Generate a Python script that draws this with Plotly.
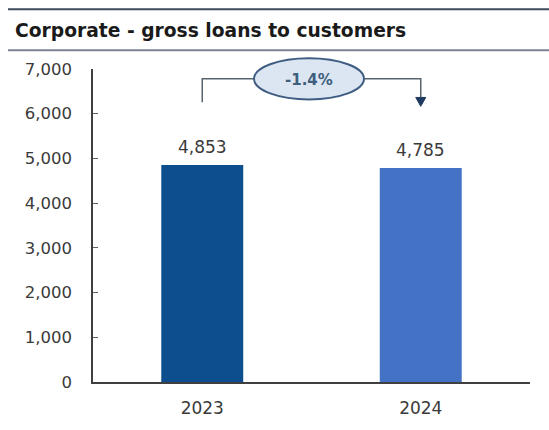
import plotly.graph_objects as go

# Data
years = ["2023", "2024"]
loans = [4853, 4785]
bar_colors = ["#0c4e8e", "#4472c4"]
change_label = "-1.4%"
y_ticks = [0, 1000, 2000, 3000, 4000, 5000, 6000, 7000]

W, H = 549, 430
ML, MR, MT, MB = 93, 19, 69, 42
PW, PH = W - ML - MR, H - MT - MB

FONT = "DejaVu Sans"
TXT = "#3a3a3a"


def px_x(x):
    """pixel x -> paper x"""
    return (x - ML) / PW


def px_y(y):
    """pixel y -> paper y"""
    return (H - MB - y) / PH


def cat_x(i):
    """paper x of category centre"""
    return (i + 0.5) / len(years)


fig = go.Figure(
    go.Bar(
        x=years,
        y=loans,
        marker=dict(color=bar_colors, line=dict(width=0)),
        width=0.375,
        hoverinfo="skip",
    )
)

# value labels above bars (category axis -> position by index)
for i, v in enumerate(loans):
    fig.add_annotation(
        x=i, y=v, xref="x", yref="y",
        text=f"{v:,}", showarrow=False,
        yanchor="bottom", yshift=6,
        font=dict(family=FONT, size=17, color=TXT),
    )

shapes = []
# header rules
shapes.append(dict(type="line", xref="paper", yref="paper",
                   x0=px_x(8), x1=px_x(W), y0=px_y(8), y1=px_y(8),
                   line=dict(color="#3d4b5e", width=2)))
shapes.append(dict(type="line", xref="paper", yref="paper",
                   x0=px_x(8), x1=px_x(W), y0=px_y(50), y1=px_y(50),
                   line=dict(color="#7b8491", width=2)))

# change bracket
xl, xr = cat_x(0), cat_x(1)
ymid = px_y(79)
ell_l, ell_r = px_x(254), px_x(364)
shapes.append(dict(type="path", xref="paper", yref="paper",
                   path=f"M {xl} {px_y(103)} L {xl} {ymid} L {ell_l} {ymid}",
                   line=dict(color="#56646f", width=1.5)))
shapes.append(dict(type="path", xref="paper", yref="paper",
                   path=f"M {ell_r} {ymid} L {xr} {ymid} L {xr} {px_y(100)}",
                   line=dict(color="#56646f", width=1.5)))
hw = 5 / PW
shapes.append(dict(type="path", xref="paper", yref="paper",
                   path=f"M {xr - hw} {px_y(98)} L {xr + hw} {px_y(98)} L {xr} {px_y(107)} Z",
                   fillcolor="#1f3a60", line=dict(color="#1f3a60", width=1)))
shapes.append(dict(type="circle", xref="paper", yref="paper",
                   x0=ell_l, x1=ell_r, y0=px_y(100), y1=px_y(58),
                   fillcolor="#dce6f2", line=dict(color="#3f5d82", width=2)))

fig.add_annotation(
    x=(ell_l + ell_r) / 2, y=px_y(80), xref="paper", yref="paper",
    xanchor="center", yanchor="middle",
    text=f"<b>{change_label}</b>", showarrow=False,
    font=dict(family=FONT, size=15, color="#3e5e7e"),
)

fig.update_layout(
    width=W, height=H,
    margin=dict(l=ML, r=MR, t=MT, b=MB),
    paper_bgcolor="white", plot_bgcolor="white",
    showlegend=False,
    shapes=shapes,
    title=dict(
        text="<b>Corporate - gross loans to customers</b>",
        x=15 / W, xanchor="left", xref="container",
        y=1 - 30 / H, yanchor="middle", yref="container",
        font=dict(family=FONT, size=18.7, color="#1a1a1a"),
    ),
    xaxis=dict(
        type="category", range=[-0.5, len(years) - 0.5],
        showline=True, linecolor="#404040", linewidth=1.5,
        ticks="", showgrid=False, zeroline=False,
        tickfont=dict(family=FONT, size=17, color=TXT),
        ticklabelstandoff=10,
    ),
    yaxis=dict(
        range=[0, 7000], tickvals=y_ticks, tickformat=",",
        showline=True, linecolor="#404040", linewidth=1.5,
        ticks="inside", ticklen=5, tickcolor="#606060",
        showgrid=False, zeroline=False,
        tickfont=dict(family=FONT, size=16.5, color=TXT),
        ticklabelstandoff=16,
    ),
)

fig.write_html("out.html")
